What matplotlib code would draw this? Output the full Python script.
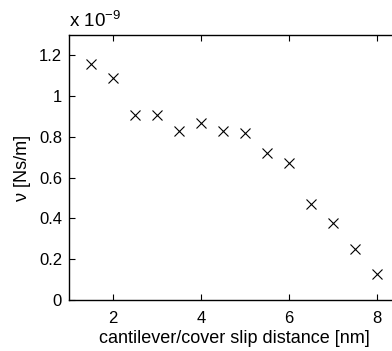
import matplotlib
matplotlib.use("Agg")
import matplotlib.pyplot as plt

plt.rcParams['font.family'] = ['Liberation Sans', 'DejaVu Sans']
plt.rcParams['mathtext.fontset'] = 'custom'
plt.rcParams['mathtext.rm'] = 'Liberation Sans'

distance_nm = [1.5, 2.0, 2.5, 3.0, 3.5, 4.0, 4.5, 5.0, 5.5, 6.0, 6.5, 7.0, 7.5, 8.0]
friction_e9 = [1.16, 1.09, 0.91, 0.91, 0.83, 0.87, 0.83, 0.82, 0.72, 0.67, 0.47, 0.38, 0.25, 0.13]
xticks = [2, 4, 6, 8]
yticks = [0, 0.2, 0.4, 0.6, 0.8, 1.0, 1.2]
ytick_labels = ['0', '0.2', '0.4', '0.6', '0.8', '1', '1.2']

fig = plt.figure(figsize=(3.92, 3.51), dpi=100)
ax = fig.add_axes([69/392, 51/351, 330/392, 265/351])
ax.plot(distance_nm, friction_e9, linestyle='none', marker='x', color='black',
        markersize=6.5, markeredgewidth=0.8)
ax.set_xlim(1, 8.5)
ax.set_ylim(0, 1.3)
ax.set_xticks(xticks)
ax.set_xticklabels([str(t) for t in xticks])
ax.set_yticks(yticks)
ax.set_yticklabels(ytick_labels)
ax.tick_params(direction='in', top=True, right=True, length=4, width=0.8,
               labelsize=12)
ax.tick_params(axis='x', pad=8)
ax.tick_params(axis='y', pad=5)
for s in ax.spines.values():
    s.set_linewidth(1.0)
ax.set_xlabel('cantilever/cover slip distance [nm]', fontsize=13, labelpad=3)
ax.set_ylabel('ν [Ns/m]', fontsize=13, labelpad=6)
fig.text(69/392, 1 - 27/351, r'x 10$^{\mathrm{-9}}$', fontsize=13.5, ha='left', va='baseline')
fig.savefig('out.png', dpi=100)
